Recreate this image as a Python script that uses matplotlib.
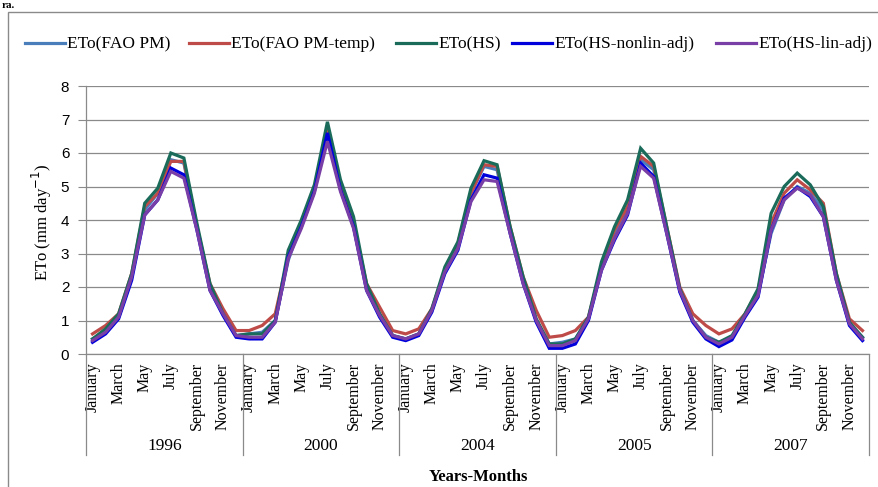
import matplotlib
matplotlib.use("Agg")
import matplotlib.pyplot as plt
import matplotlib.transforms as mtransforms
from matplotlib.lines import Line2D
from matplotlib.patches import Rectangle

years = ["1996", "2000", "2004", "2005", "2007"]
months = ["January", "February", "March", "April", "May", "June", "July",
          "August", "September", "October", "November", "December"]
series_names = ["ETo(FAO PM)", "ETo(FAO PM-temp)", "ETo(HS)",
                "ETo(HS-nonlin-adj)", "ETo(HS-lin-adj)"]

fao_pm = [0.45, 0.65, 1.1, 2.3, 4.3, 4.8, 5.8, 5.7, 3.8, 2.0, 1.2, 0.55,
          0.6, 0.65, 1.0, 2.8, 3.9, 4.9, 6.5, 5.0, 3.8, 2.0, 1.2, 0.55,
          0.45, 0.6, 1.3, 2.5, 3.2, 4.8, 5.6, 5.5, 3.7, 2.2, 1.0, 0.3,
          0.35, 0.45, 1.05, 2.6, 3.6, 4.3, 5.8, 5.5, 3.7, 1.9, 1.0, 0.55,
          0.35, 0.5, 1.15, 1.8, 3.6, 4.6, 5.0, 4.8, 4.3, 2.3, 0.9, 0.5]
fao_pm_temp = [0.6, 0.85, 1.2, 2.4, 4.4, 4.8, 5.75, 5.75, 3.8, 2.1, 1.35, 0.7,
               0.7, 0.85, 1.2, 2.9, 3.9, 4.9, 6.7, 5.1, 3.9, 2.1, 1.4, 0.7,
               0.6, 0.75, 1.35, 2.5, 3.3, 4.8, 5.65, 5.6, 3.8, 2.3, 1.3, 0.5,
               0.55, 0.7, 1.1, 2.6, 3.7, 4.4, 5.9, 5.6, 3.8, 2.0, 1.2, 0.85,
               0.6, 0.75, 1.2, 1.9, 3.9, 4.8, 5.2, 4.9, 4.5, 2.4, 1.05, 0.7]
hs = [0.45, 0.75, 1.2, 2.4, 4.5, 4.95, 6.0, 5.85, 3.9, 2.1, 1.2, 0.55,
      0.6, 0.6, 1.0, 3.1, 4.0, 5.05, 6.93, 5.2, 4.1, 2.1, 1.2, 0.55,
      0.45, 0.6, 1.35, 2.6, 3.35, 4.95, 5.77, 5.65, 3.8, 2.3, 1.05, 0.3,
      0.3, 0.45, 1.1, 2.75, 3.8, 4.6, 6.14, 5.7, 3.8, 1.95, 1.0, 0.5,
      0.35, 0.55, 1.2, 1.95, 4.2, 5.0, 5.4, 5.05, 4.4, 2.4, 0.95, 0.5]
hs_nonlin = [0.35, 0.6, 1.05, 2.2, 4.15, 4.6, 5.55, 5.35, 3.7, 1.9, 1.15, 0.5,
             0.45, 0.45, 0.95, 2.9, 3.8, 4.85, 6.6, 4.9, 3.8, 1.9, 1.1, 0.5,
             0.4, 0.55, 1.25, 2.4, 3.1, 4.6, 5.35, 5.25, 3.6, 2.1, 0.95, 0.17,
             0.17, 0.3, 1.0, 2.5, 3.4, 4.15, 5.7, 5.3, 3.6, 1.85, 0.95, 0.45,
             0.22, 0.42, 1.1, 1.7, 3.7, 4.65, 4.97, 4.7, 4.1, 2.2, 0.85, 0.4]
hs_lin = [0.4, 0.65, 1.1, 2.3, 4.15, 4.6, 5.45, 5.25, 3.7, 1.9, 1.2, 0.55,
          0.5, 0.5, 0.95, 2.85, 3.75, 4.8, 6.35, 4.85, 3.75, 1.9, 1.15, 0.55,
          0.45, 0.6, 1.3, 2.45, 3.15, 4.55, 5.2, 5.15, 3.6, 2.1, 1.0, 0.25,
          0.25, 0.4, 1.05, 2.5, 3.45, 4.2, 5.6, 5.25, 3.6, 1.9, 1.0, 0.5,
          0.3, 0.5, 1.15, 1.75, 3.7, 4.6, 4.95, 4.75, 4.1, 2.2, 0.9, 0.45]

colors = ["#4A7EBB", "#BE4B48", "#1A6B5A", "#0000DD", "#7A3FA6"]
all_series = [fao_pm, fao_pm_temp, hs, hs_nonlin, hs_lin]

W, H = 879, 487
fig = plt.figure(figsize=(W / 100, H / 100), dpi=100)
serif = ["Liberation Serif", "DejaVu Serif"]

ax = fig.add_axes([86 / W, 1 - 354 / H, (869 - 86) / W, (354 - 86) / H])
x = list(range(len(fao_pm)))
for s, c in zip(all_series, colors):
    ax.plot(x, s, color=c, lw=2.3, solid_joinstyle="miter")

ax.set_xlim(-0.5, len(fao_pm) - 0.5)
ax.set_ylim(0, 8)
ax.set_yticks(range(0, 9))
ax.yaxis.grid(True, color="#8a8a8a", lw=0.9)
ax.set_axisbelow(True)
for sp in ["top", "right"]:
    ax.spines[sp].set_visible(False)
for sp in ["left", "bottom"]:
    ax.spines[sp].set_color("#8a8a8a")
    ax.spines[sp].set_linewidth(0.9)
ax.tick_params(axis="y", length=6, color="#8a8a8a", pad=6, labelsize=11)
for lab in ax.get_yticklabels():
    lab.set_family(["Liberation Sans", "DejaVu Sans"])

tick_pos = [12 * yi + m for yi in range(len(years)) for m in range(0, 12, 2)]
tick_lab = [months[m] for yi in range(len(years)) for m in range(0, 12, 2)]
ax.set_xticks(tick_pos)
ax.set_xticklabels(tick_lab, rotation=90, family=serif, fontsize=11.5, va="top")
ax.tick_params(axis="x", length=0, pad=6)

trans = mtransforms.blended_transform_factory(ax.transData, ax.transAxes)
ah = 354 - 86
for k in range(len(years) + 1):
    ax.plot([12 * k - 0.5, 12 * k - 0.5], [0, (354 - 455) / ah], transform=trans,
            color="#8a8a8a", lw=0.9, clip_on=False)
for k, yr in enumerate(years):
    ax.text(12 * k + 5.5, (354 - 446) / ah, yr, transform=trans, ha="center",
            va="center", family=serif, fontsize=12.5)

fig.text(478 / W, 1 - 477 / H, "Years-Months", ha="center", va="center",
         family=serif, fontsize=12, fontweight="bold")
fig.text(42 / W, 1 - 222 / H, "ETo (mm day$^{-1}$)", ha="center", va="center",
         rotation=90, family=serif, fontsize=12)

# legend
line_starts = [25, 189, 396, 512, 716]
ly = 1 - 43 / H
for xs, c, name in zip(line_starts, colors, series_names):
    fig.add_artist(Line2D([xs / W, (xs + 40) / W], [ly, ly], color=c, lw=2.3,
                          transform=fig.transFigure))
    fig.text((xs + 42) / W, 1 - 44 / H, name, ha="left", va="center",
             family=serif, fontsize=12.5)

# outer frame
fig.add_artist(Rectangle((8 / W, -0.05), 1.2, 1 - 12 / H + 0.05,
                         transform=fig.transFigure, fill=False,
                         edgecolor="#8a8a8a", lw=1.0))
fig.text(2 / W, 1 - 1 / H, "ra.", ha="left", va="top", family=serif,
         fontsize=8, fontweight="bold")

fig.savefig("out.png", dpi=100)
